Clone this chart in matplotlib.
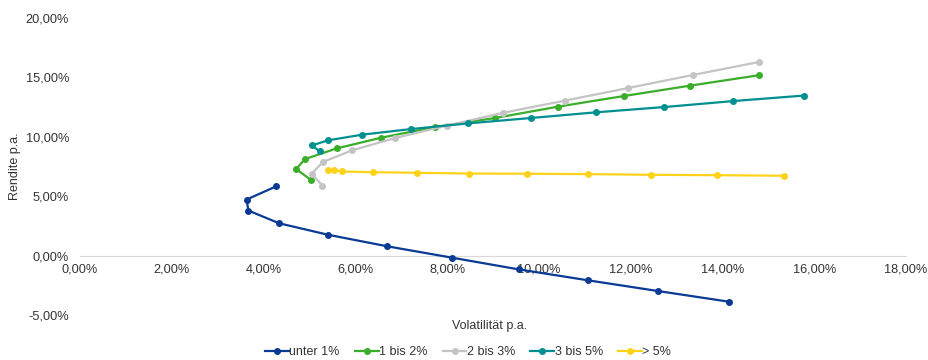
import matplotlib
matplotlib.use('Agg')
import matplotlib.pyplot as plt
from matplotlib.ticker import FuncFormatter

plt.rcParams['font.family'] = ['Liberation Sans', 'DejaVu Sans']

# Volatilitaet / Rendite in Prozent, je Gruppe
vol_u1 = [4.27, 3.63, 3.67, 4.34, 5.41, 6.70, 8.10, 9.56, 11.07, 12.59, 14.14]
ret_u1 = [5.82, 4.72, 3.79, 2.72, 1.75, 0.78, -0.17, -1.16, -2.08, -2.98, -3.88]

vol_12 = [5.03, 4.71, 4.90, 5.59, 6.56, 7.73, 9.04, 10.42, 11.85, 13.30, 14.79]
ret_12 = [6.38, 7.28, 8.12, 9.02, 9.92, 10.82, 11.58, 12.54, 13.43, 14.31, 15.18]

vol_23 = [5.28, 5.05, 5.29, 5.92, 6.86, 7.99, 9.22, 10.56, 11.95, 13.35, 14.80]
ret_23 = [5.90, 6.89, 7.87, 8.85, 9.89, 10.94, 12.02, 13.04, 14.11, 15.20, 16.30]

vol_35 = [5.23, 5.05, 5.40, 6.15, 7.21, 8.46, 9.82, 11.24, 12.72, 14.24, 15.77]
ret_35 = [8.77, 9.27, 9.70, 10.18, 10.65, 11.13, 11.58, 12.06, 12.50, 13.01, 13.47]

vol_5 = [5.40, 5.54, 5.70, 6.39, 7.34, 8.48, 9.74, 11.07, 12.45, 13.88, 15.33]
ret_5 = [7.17, 7.19, 7.08, 7.02, 6.97, 6.91, 6.89, 6.86, 6.80, 6.77, 6.72]

labels = ['unter 1%', '1 bis 2%', '2 bis 3%', '3 bis 5%', '> 5%']
colors = ['#0a3a94', '#3aae2a', '#c4c4c4', '#008f91', '#ffd21a']

fig = plt.figure(figsize=(9.29, 3.6), dpi=100)
ax = fig.add_axes([0.0861, 0.125, 0.8892, 0.825])

series = [(vol_u1, ret_u1), (vol_12, ret_12), (vol_23, ret_23), (vol_35, ret_35), (vol_5, ret_5)]
for (v, r), lab, c in zip(series, labels, colors):
    ax.plot(v, r, color=c, lw=1.6, marker='o', markersize=4, label=lab)

ax.set_xlim(0, 18)
ax.set_ylim(-5, 20)
ax.set_xticks(range(0, 19, 2))
ax.set_yticks(range(-5, 21, 5))

pct = FuncFormatter(lambda v, p: ('%.2f%%' % v).replace('.', ','))
ax.xaxis.set_major_formatter(pct)
ax.yaxis.set_major_formatter(pct)

for s in ['top', 'right', 'left']:
    ax.spines[s].set_visible(False)
ax.spines['bottom'].set_position(('data', 0))
ax.spines['bottom'].set_color('#d9d9d9')
ax.spines['bottom'].set_zorder(0)
ax.tick_params(axis='both', length=0, labelsize=9.2, colors='#333333')
ax.tick_params(axis='x', pad=6)
ax.tick_params(axis='y', pad=8)

ax.set_xlabel('Volatilität p.a.', fontsize=9, color='#333333')
ax.xaxis.set_label_coords(0.496, -0.018)
ax.set_ylabel('Rendite p.a.', fontsize=9, color='#333333')
ax.yaxis.set_label_coords(-0.072, 0.5)

fig.legend(loc='center', bbox_to_anchor=(0.504, 0.022), ncol=5, frameon=False,
           fontsize=9, handlelength=1.9, columnspacing=1.2, handletextpad=0.05,
           labelcolor='#333333')

fig.savefig('out.png', dpi=100)
